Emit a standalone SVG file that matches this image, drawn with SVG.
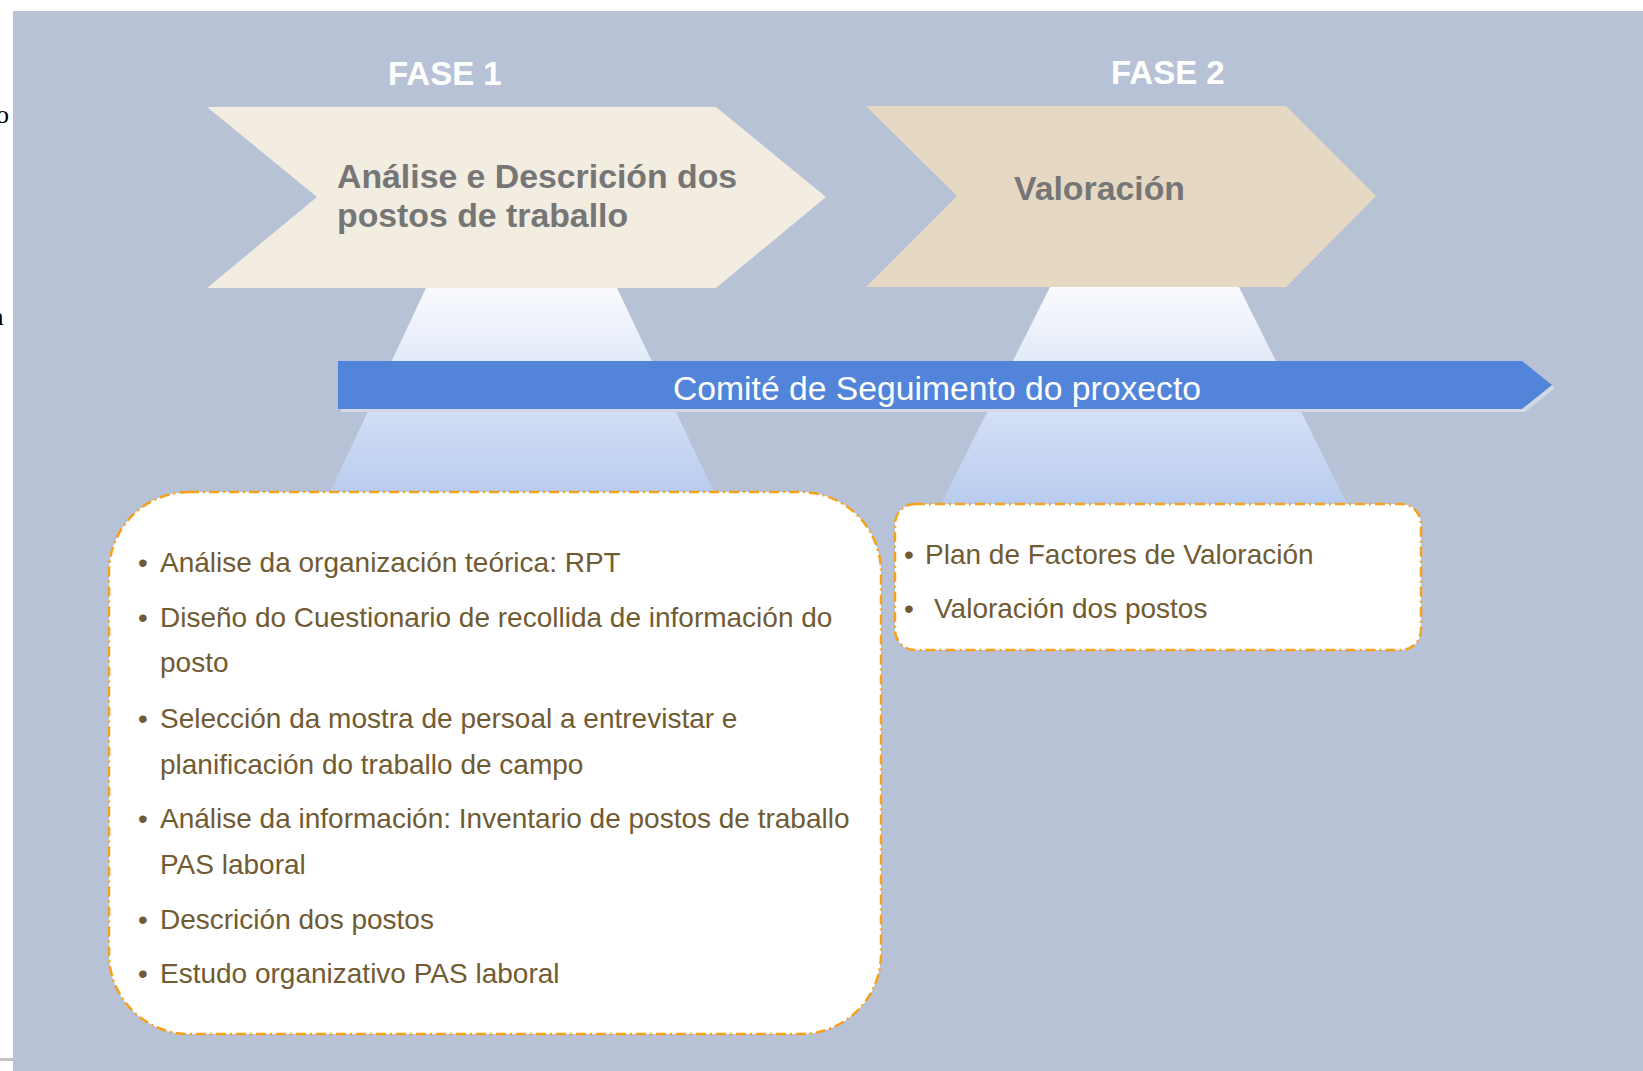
<svg xmlns="http://www.w3.org/2000/svg" width="1643" height="1071" viewBox="0 0 1643 1071">
  <defs>
    <linearGradient id="beam" x1="0" y1="0" x2="0" y2="1">
      <stop offset="0" stop-color="#f9fafd"/>
      <stop offset="1" stop-color="#b9ccef"/>
    </linearGradient>
    <style>
      .phase { font-family: "Liberation Sans", Arial, sans-serif; font-weight: bold; font-size: 33px; fill: #ffffff; }
      .chev-text { font-family: "Liberation Sans", Arial, sans-serif; font-weight: bold; font-size: 33.8px; fill: #767676; }
      .bar-text { font-family: "Liberation Sans", Arial, sans-serif; font-size: 33.7px; fill: #ffffff; }
      .item { font-family: "Liberation Sans", Arial, sans-serif; font-size: 28px; fill: #715b33; }
      .box { fill: #ffffff; stroke: #f5a11a; stroke-width: 2.5; stroke-dasharray: 10 4 2 4; }
      .beam { fill: url(#beam); }
      .stray { font-family: "Liberation Serif", "Times New Roman", serif; font-size: 26px; fill: #000000; }
    </style>
  </defs>

  <rect x="0" y="0" width="1643" height="1071" fill="#ffffff"/>
  <text class="stray" x="-4" y="123">o</text>
  <text class="stray" x="-8" y="325">a</text>
  <rect x="0" y="1058" width="13" height="3" fill="#c4c4c4"/>
  <rect x="13" y="11" width="1630" height="1060" fill="#b8c2d6"/>

  <g id="connectors">
    <polygon class="beam" points="426,288 617,288 714,492 330,492"/>
    <polygon class="beam" points="1050,287 1239,287 1347,504 941,504"/>
  </g>

  <g id="fase1">
    <text class="phase" x="388" y="85">FASE 1</text>
    <polygon points="207,107 716,107 826,197 716,288 207,288 317,197" fill="#f2ece1"/>
    <text class="chev-text" x="337" y="188">Análise e Descrición dos</text>
    <text class="chev-text" x="337" y="227">postos de traballo</text>
  </g>

  <g id="fase2">
    <text class="phase" x="1111" y="84">FASE 2</text>
    <polygon points="866,106 1286,106 1376,196 1286,287 866,287 957,196" fill="#e5d9c4"/>
    <text class="chev-text" x="1014" y="200">Valoración</text>
  </g>

  <g id="comite">
    <polygon points="341,364 1525,364 1555,388 1525,412 341,412" fill="#d3d8e3"/>
    <polygon points="338,361 1522,361 1552,385 1522,409 338,409" fill="#5285da"/>
    <text class="bar-text" x="937" y="400" text-anchor="middle">Comité de Seguimento do proxecto</text>
  </g>

  <g id="box-fase1">
    <rect class="box" x="109" y="492" width="772" height="542" rx="80" ry="80"/>
    <text class="item" x="138" y="572">•</text>
    <text class="item" x="160" y="572">Análise da organización teórica: RPT</text>
    <text class="item" x="138" y="627">•</text>
    <text class="item" x="160" y="627">Diseño do Cuestionario de recollida de información do</text>
    <text class="item" x="160" y="672">posto</text>
    <text class="item" x="138" y="728">•</text>
    <text class="item" x="160" y="728">Selección da mostra de persoal a entrevistar e</text>
    <text class="item" x="160" y="774">planificación do traballo de campo</text>
    <text class="item" x="138" y="828">•</text>
    <text class="item" x="160" y="828">Análise da información: Inventario de postos de traballo</text>
    <text class="item" x="160" y="874">PAS laboral</text>
    <text class="item" x="138" y="929">•</text>
    <text class="item" x="160" y="929">Descrición dos postos</text>
    <text class="item" x="138" y="983">•</text>
    <text class="item" x="160" y="983">Estudo organizativo PAS laboral</text>
  </g>

  <g id="box-fase2">
    <rect class="box" x="895" y="504" width="526" height="146" rx="20" ry="20"/>
    <text class="item" x="904" y="564">•</text>
    <text class="item" x="925" y="564">Plan de Factores de Valoración</text>
    <text class="item" x="904" y="618">•</text>
    <text class="item" x="934" y="618">Valoración dos postos</text>
  </g>
</svg>
